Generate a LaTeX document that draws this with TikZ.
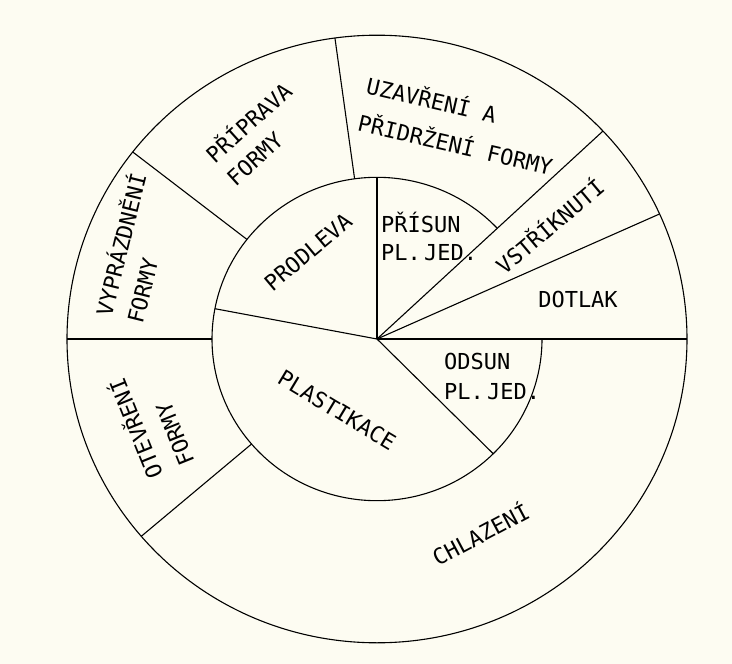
\documentclass[tikz,border=0pt]{standalone}
\usepackage{fontspec}
\setmonofont{DejaVu Sans Mono}
\definecolor{bg}{RGB}{253,252,242}
\begin{document}
\begin{tikzpicture}[x=1pt,y=1pt,
  lbl/.style={font=\ttfamily\fontsize{22}{#1}\selectfont, inner sep=0pt, align=left, text=black},
  lbl/.default=31,
  ring/.style={line width=1.1pt, draw=black}]
\fill[bg] (0,0) rectangle (732,-664);
\useasboundingbox (0,0) rectangle (732,-664);
\begin{scope}[shift={(377,-339)}, yscale=0.98, ring]
  \coordinate (c) at (0,0);
  \draw (c) circle [radius=310];
  \draw (43.2:165) arc [start angle=43.2, end angle=360, radius=165];
  \draw (c) -- (0:310);
  \draw (c) -- (24.3:310);
  \draw (c) -- (43.2:310);
  \draw (c) -- (90:165);
  \draw (c) -- (169.2:165);
  \draw (c) -- (-45.2:165);
  \draw (97.8:165) -- (97.8:310);
  \draw (142:165) -- (142:310);
  \draw (180:165) -- (180:310);
  \draw (220.5:165) -- (220.5:310);
\end{scope}
\node[lbl, rotate=42] (pri) at (258,-133) {PŘÍPRAVA\\FORMY};
\node[lbl=38, rotate=-13] (uza) at (460,-124.5) {UZAVŘENÍ A\\PŘIDRŽENÍ FORMY};
\node[lbl, rotate=40] (vst) at (549,-225) {VSTŘÍKNUTÍ};
\node[lbl] (dot) at (578,-299) {DOTLAK};
\node[lbl=28, anchor=west] (pris) at (381,-236) {PŘÍSUN\\PL.\kern-10pt\ JED.};
\node[lbl=30, anchor=west] (ods) at (444,-376) {ODSUN\\PL.\kern-10pt\ JED.};
\node[lbl, rotate=40] (prod) at (308,-252) {PRODLEVA};
\node[lbl, rotate=-31] (plast) at (337,-410) {PLASTIKACE};
\node[lbl, rotate=28] (chl) at (480,-533) {CHLAZENÍ};
\node[lbl=32, rotate=76] (vyp) at (135,-248) {VYPRÁZDNĚNÍ\\FORMY};
\node[lbl=34, rotate=112] (ote) at (150,-423) {OTEVŘENÍ\\FORMY};
\end{tikzpicture}
\end{document}
